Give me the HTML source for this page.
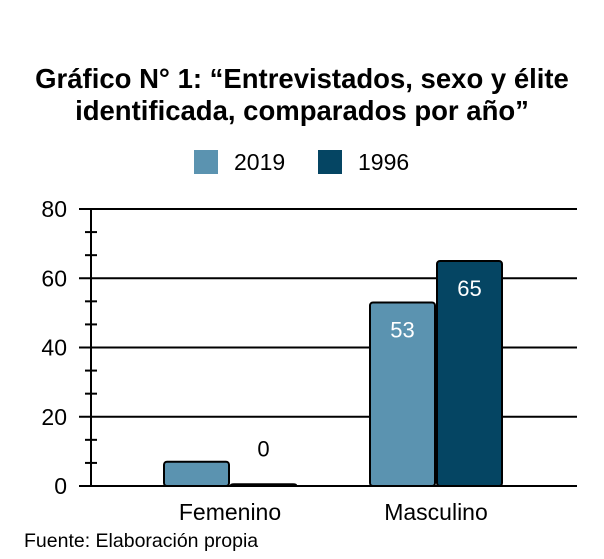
<!DOCTYPE html>
<html><head><meta charset="utf-8"><style>
body{margin:0;background:#fff;width:604px;height:554px;overflow:hidden;font-family:"Liberation Sans",Arial,sans-serif}
</style></head><body>
<svg width="604" height="554" id="c">
<text x="302" y="88" text-anchor="middle" font-size="27.5" font-weight="bold">Gráfico N° 1: “Entrevistados, sexo y élite</text>
<text x="302" y="120" text-anchor="middle" font-size="27.5" font-weight="bold">identificada, comparados por año”</text>
<g>
<rect x="194" y="150" width="24" height="24" fill="#5b93b0"/>
<text x="234" y="170" font-size="23">2019</text>
<rect x="318" y="150" width="24" height="24" fill="#054563"/>
<text x="358" y="170" font-size="23">1996</text>
</g>
<g id="grid"></g><g id="bars"></g>
<text x="24" y="547" font-size="19.5">Fuente: Elaboración propia</text>
</svg>
<script>
const categories=["Femenino","Masculino"];
const series2019=[7,53];
const series1996=[0.5,65];
const labels2019=["7","53"];
const labels1996=["0","65"];
const yTicks=[0,20,40,60,80];
const NS="http://www.w3.org/2000/svg";
const y0=486,yTop=209,left=91,right=577;
const y=v=>y0-(v/80)*(y0-yTop);
const catCenter=[230,436];
function mk(t,a,p){const e=document.createElementNS(NS,t);for(const k in a)e.setAttribute(k,a[k]);p.appendChild(e);return e;}
const g=document.getElementById('grid'),b=document.getElementById('bars');
yTicks.forEach(v=>{
const l=mk('line',{x1:79,x2:right,y1:y(v),y2:y(v),stroke:'#000','stroke-width':2},g);


const t=mk('text',{x:67,y:y(v)+8,'text-anchor':'end','font-size':23},g);t.textContent=v;


});
for(let v=0;v<80;v+=20){[20/3,40/3].forEach(o=>{
const m=mk('line',{x1:left-6,x2:left+6,y1:y(v+o),y2:y(v+o),stroke:'#000','stroke-width':2},g);


});}
const ax=mk('line',{x1:left,x2:left,y1:yTop,y2:y0,stroke:'#000','stroke-width':2},g);


const bw=65;
categories.forEach((c,i)=>{
const cx=catCenter[i];
[[series2019,labels2019,'#5b93b0',cx-bw-1,'2019','#fff'],[series1996,labels1996,'#054563',cx+1,'1996','#000']].forEach(([s,lb,col,x,n,tc])=>{
const top=y(s[i]);
const r=mk('rect',{x:x,y:top,width:bw,height:y0-top,rx:3,fill:col,stroke:'#000','stroke-width':2},b);


const inside=s[i]>20;
const t=mk('text',{x:x+bw/2,y:inside?top+35:top-28,'text-anchor':'middle','font-size':22,fill:inside?'#fff':tc},b);
t.textContent=lb[i];


});
const t=mk('text',{x:cx,y:520,'text-anchor':'middle','font-size':23},b);t.textContent=c;


});
</script>
</body></html>
